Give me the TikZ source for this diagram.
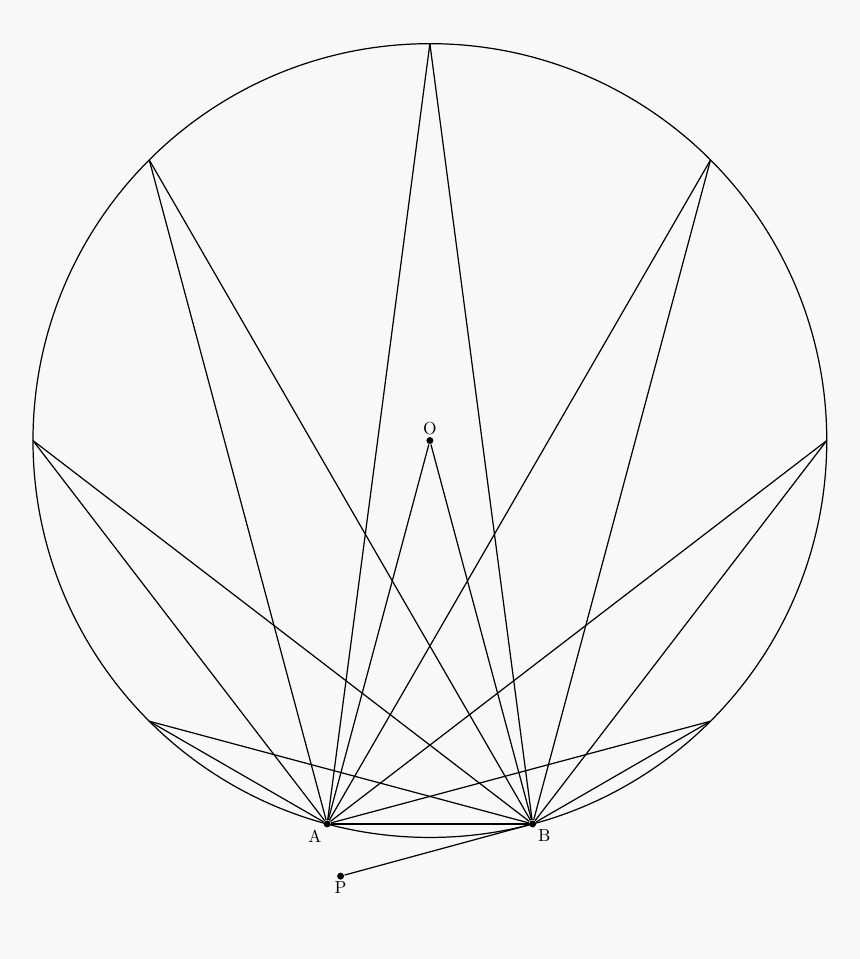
\documentclass[tikz,border=0pt]{standalone}
\usetikzlibrary{positioning}
\definecolor{bgcolor}{RGB}{248,248,248}

\begin{document}
\begin{tikzpicture}[line width=0.7pt,
    dot/.style={circle, fill, inner sep=0pt, minimum size=4pt},
    chord/.style={draw, line width=0.7pt},
    every label/.style={label distance=-3pt}]
  \fill[bgcolor] (-8.665,-10.45) rectangle (8.665,8.88);
  \useasboundingbox (-8.665,-10.45) rectangle (8.665,8.88);

  \draw (0,0) circle (8);

  % points on the circle
  \coordinate (Q1) at (90:8);
  \coordinate (Q2) at (135:8);
  \coordinate (Q3) at (45:8);
  \coordinate (Q4) at (180:8);
  \coordinate (Q5) at (0:8);
  \coordinate (Q6) at (225:8);
  \coordinate (Q7) at (315:8);

  \node[dot, label={[label distance=-3pt]above:O}]       (O) at (0,0)   {};
  \node[dot, label={[label distance=-3pt]below left:A}]  (A) at (255:8) {};
  \node[dot, label={[label distance=-3pt]below right:B}] (B) at (285:8) {};
  \node[dot, label={[label distance=-3pt]below:P}]       (P) at (-1.8,-8.78) {};

  \path[chord] (A) edge (Q1) edge (Q2) edge (Q3) edge (Q4)
                   edge (Q5) edge (Q6) edge (Q7)
                   edge (O)  edge (B)
               (B) edge (Q1) edge (Q2) edge (Q3) edge (Q4)
                   edge (Q5) edge (Q6) edge (Q7)
                   edge (O)  edge (P)
               ;
\end{tikzpicture}
\end{document}
